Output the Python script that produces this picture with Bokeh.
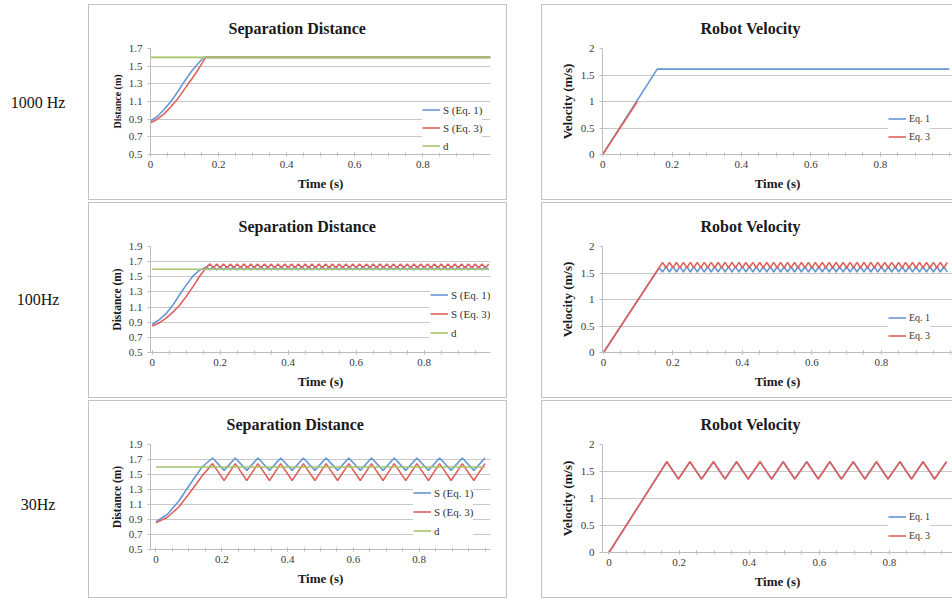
from bokeh.plotting import figure
from bokeh.layouts import row, column
from bokeh.models import Range1d, FixedTicker, CustomJSTickFormatter, Div, Spacer
from bokeh.embed import file_html
from bokeh.resources import INLINE

# ---------------- data ----------------
row_labels = ["1000 Hz", "100Hz", "30Hz"]
dist_title = "Separation Distance"
vel_title = "Robot Velocity"
dist_ylabel = "Distance (m)"
vel_ylabel = "Velocity (m/s)"
xlabel = "Time (s)"
dist_names = ["S (Eq. 1)", "S (Eq. 3)", "d"]
vel_names = ["Eq. 1", "Eq. 3"]

x_tick_vals = [0, 0.2, 0.4, 0.6, 0.8]
x_tick_labels = ["0", "0.2", "0.4", "0.6", "0.8"]
y_ticks_d1 = [0.5, 0.7, 0.9, 1.1, 1.3, 1.5, 1.7]
y_labels_d1 = ["0.5", "0.7", "0.9", "1.1", "1.3", "1.5", "1.7"]
y_ticks_d2 = [0.5, 0.7, 0.9, 1.1, 1.3, 1.5, 1.7, 1.9]
y_labels_d2 = ["0.5", "0.7", "0.9", "1.1", "1.3", "1.5", "1.7", "1.9"]
y_ticks_v = [0, 0.5, 1, 1.5, 2]
y_labels_v = ["0", "0.5", "1", "1.5", "2"]

# ---- 1000 Hz ----
t_d1000_eq1 = [0, 0.02, 0.04, 0.06, 0.08, 0.10, 0.12, 0.14, 0.156, 0.999]
d1000_eq1 = [0.88, 0.93, 1.01, 1.10, 1.21, 1.33, 1.44, 1.53, 1.60, 1.60]
t_d1000_eq3 = [0, 0.02, 0.04, 0.06, 0.08, 0.10, 0.12, 0.14, 0.162, 0.999]
d1000_eq3 = [0.86, 0.90, 0.96, 1.04, 1.13, 1.24, 1.35, 1.46, 1.60, 1.60]
t_dref1000 = [0, 0.999]
dref1000 = [1.6, 1.6]
t_v1000_eq1 = [0, 0.157, 0.999]
v1000_eq1 = [0, 1.61, 1.61]
t_v1000_eq3 = [0, 0.10]
v1000_eq3 = [0, 1.0]

# ---- 100 Hz ----
t_ramp100 = [0, 0.02, 0.04, 0.06, 0.08, 0.10, 0.12, 0.14, 0.16]
d100_eq1_ramp = [0.87, 0.93, 1.01, 1.12, 1.26, 1.39, 1.51, 1.59, 1.63]
d100_eq3_ramp = [0.85, 0.89, 0.95, 1.03, 1.12, 1.24, 1.37, 1.51, 1.63]
t_vramp100 = [0, 0.16]
v100_eq1_ramp = [0, 1.60]
v100_eq3_ramp = [0, 1.60]
t_osc100 = [0.17, 0.18, 0.19, 0.20, 0.21, 0.22, 0.23, 0.24, 0.25, 0.26,
            0.27, 0.28, 0.29, 0.30, 0.31, 0.32, 0.33, 0.34, 0.35, 0.36,
            0.37, 0.38, 0.39, 0.40, 0.41, 0.42, 0.43, 0.44, 0.45, 0.46,
            0.47, 0.48, 0.49, 0.50, 0.51, 0.52, 0.53, 0.54, 0.55, 0.56,
            0.57, 0.58, 0.59, 0.60, 0.61, 0.62, 0.63, 0.64, 0.65, 0.66,
            0.67, 0.68, 0.69, 0.70, 0.71, 0.72, 0.73, 0.74, 0.75, 0.76,
            0.77, 0.78, 0.79, 0.80, 0.81, 0.82, 0.83, 0.84, 0.85, 0.86,
            0.87, 0.88, 0.89, 0.90, 0.91, 0.92, 0.93, 0.94, 0.95, 0.96,
            0.97, 0.98, 0.99]
d100_eq1_osc = [1.59, 1.63, 1.59, 1.63, 1.59, 1.63, 1.59, 1.63, 1.59, 1.63,
                1.59, 1.63, 1.59, 1.63, 1.59, 1.63, 1.59, 1.63, 1.59, 1.63,
                1.59, 1.63, 1.59, 1.63, 1.59, 1.63, 1.59, 1.63, 1.59, 1.63,
                1.59, 1.63, 1.59, 1.63, 1.59, 1.63, 1.59, 1.63, 1.59, 1.63,
                1.59, 1.63, 1.59, 1.63, 1.59, 1.63, 1.59, 1.63, 1.59, 1.63,
                1.59, 1.63, 1.59, 1.63, 1.59, 1.63, 1.59, 1.63, 1.59, 1.63,
                1.59, 1.63, 1.59, 1.63, 1.59, 1.63, 1.59, 1.63, 1.59, 1.63,
                1.59, 1.63, 1.59, 1.63, 1.59, 1.63, 1.59, 1.63, 1.59, 1.63,
                1.59, 1.63, 1.59]
d100_eq3_osc = [1.67, 1.62, 1.67, 1.62, 1.67, 1.62, 1.67, 1.62, 1.67, 1.62,
                1.67, 1.62, 1.67, 1.62, 1.67, 1.62, 1.67, 1.62, 1.67, 1.62,
                1.67, 1.62, 1.67, 1.62, 1.67, 1.62, 1.67, 1.62, 1.67, 1.62,
                1.67, 1.62, 1.67, 1.62, 1.67, 1.62, 1.67, 1.62, 1.67, 1.62,
                1.67, 1.62, 1.67, 1.62, 1.67, 1.62, 1.67, 1.62, 1.67, 1.62,
                1.67, 1.62, 1.67, 1.62, 1.67, 1.62, 1.67, 1.62, 1.67, 1.62,
                1.67, 1.62, 1.67, 1.62, 1.67, 1.62, 1.67, 1.62, 1.67, 1.62,
                1.67, 1.62, 1.67, 1.62, 1.67, 1.62, 1.67, 1.62, 1.67, 1.62,
                1.67, 1.62, 1.67]
v100_eq1_osc = [1.52, 1.62, 1.52, 1.62, 1.52, 1.62, 1.52, 1.62, 1.52, 1.62,
                1.52, 1.62, 1.52, 1.62, 1.52, 1.62, 1.52, 1.62, 1.52, 1.62,
                1.52, 1.62, 1.52, 1.62, 1.52, 1.62, 1.52, 1.62, 1.52, 1.62,
                1.52, 1.62, 1.52, 1.62, 1.52, 1.62, 1.52, 1.62, 1.52, 1.62,
                1.52, 1.62, 1.52, 1.62, 1.52, 1.62, 1.52, 1.62, 1.52, 1.62,
                1.52, 1.62, 1.52, 1.62, 1.52, 1.62, 1.52, 1.62, 1.52, 1.62,
                1.52, 1.62, 1.52, 1.62, 1.52, 1.62, 1.52, 1.62, 1.52, 1.62,
                1.52, 1.62, 1.52, 1.62, 1.52, 1.62, 1.52, 1.62, 1.52, 1.62,
                1.52, 1.62, 1.52]
v100_eq3_osc = [1.70, 1.60, 1.70, 1.60, 1.70, 1.60, 1.70, 1.60, 1.70, 1.60,
                1.70, 1.60, 1.70, 1.60, 1.70, 1.60, 1.70, 1.60, 1.70, 1.60,
                1.70, 1.60, 1.70, 1.60, 1.70, 1.60, 1.70, 1.60, 1.70, 1.60,
                1.70, 1.60, 1.70, 1.60, 1.70, 1.60, 1.70, 1.60, 1.70, 1.60,
                1.70, 1.60, 1.70, 1.60, 1.70, 1.60, 1.70, 1.60, 1.70, 1.60,
                1.70, 1.60, 1.70, 1.60, 1.70, 1.60, 1.70, 1.60, 1.70, 1.60,
                1.70, 1.60, 1.70, 1.60, 1.70, 1.60, 1.70, 1.60, 1.70, 1.60,
                1.70, 1.60, 1.70, 1.60, 1.70, 1.60, 1.70, 1.60, 1.70, 1.60,
                1.70, 1.60, 1.70]
t_dref100 = [0, 0.99]
dref100 = [1.6, 1.6]

# ---- 30 Hz ----
t_ramp30 = [0, 0.035, 0.07, 0.105, 0.14]
d30_eq1_ramp = [0.87, 0.97, 1.15, 1.38, 1.60]
d30_eq3_ramp = [0.855, 0.93, 1.07, 1.27, 1.48]
t_osc30 = [0.172, 0.207, 0.241, 0.276, 0.310, 0.345, 0.379, 0.414, 0.448, 0.483,
           0.517, 0.552, 0.586, 0.621, 0.655, 0.690, 0.724, 0.759, 0.793, 0.828,
           0.862, 0.897, 0.931, 0.966, 1.000]
d30_eq1_osc = [1.72, 1.555, 1.72, 1.555, 1.72, 1.555, 1.72, 1.555, 1.72, 1.555,
               1.72, 1.555, 1.72, 1.555, 1.72, 1.555, 1.72, 1.555, 1.72, 1.555,
               1.72, 1.555, 1.72, 1.555, 1.72]
d30_eq3_osc = [1.645, 1.42, 1.645, 1.42, 1.645, 1.42, 1.645, 1.42, 1.645, 1.42,
               1.645, 1.42, 1.645, 1.42, 1.645, 1.42, 1.645, 1.42, 1.645, 1.42,
               1.645, 1.42, 1.645, 1.42, 1.645]
t_dref30 = [0, 1.0]
dref30 = [1.6, 1.6]
t_v30 = [0, 0.165, 0.198, 0.231, 0.264, 0.298, 0.331, 0.364, 0.397, 0.431,
         0.464, 0.497, 0.530, 0.564, 0.597, 0.630, 0.663, 0.697, 0.730, 0.763,
         0.796, 0.830, 0.863, 0.896, 0.929, 0.963]
v30_eq1 = [0, 1.68, 1.36, 1.68, 1.36, 1.68, 1.36, 1.68, 1.36, 1.68,
           1.36, 1.68, 1.36, 1.68, 1.36, 1.68, 1.36, 1.68, 1.36, 1.68,
           1.36, 1.68, 1.36, 1.68, 1.36, 1.68]
v30_eq3 = [0, 1.68, 1.36, 1.68, 1.36, 1.68, 1.36, 1.68, 1.36, 1.68,
           1.36, 1.68, 1.36, 1.68, 1.36, 1.68, 1.36, 1.68, 1.36, 1.68,
           1.36, 1.68, 1.36, 1.68, 1.36, 1.68]

# ---------------- styling ----------------
BLUE = "#6797d4"
RED = "#e0615c"
GREEN = "#a6c46a"
GRID = "#c8c8c8"
AXIS = "#bdbdbd"
FONT = "Liberation Serif"
LEFT_W = 419
RIGHT_W = 411
ROW_HEIGHTS = [196, 196, 198]
BORDER_FULL = {"background-color": "white", "box-shadow": "inset 0 0 0 1px #c2c2c2"}
BORDER_OPEN = {"background-color": "white",
               "box-shadow": "inset 1px 1px 0 0 #c2c2c2, inset 0 -1px 0 0 #c2c2c2"}

minor_x = [round(0.05 * i, 2) for i in range(0, 22)]


def fmt(vals, labels):
    return CustomJSTickFormatter(args=dict(tv=vals, tl=labels), code="""
        for (let i = 0; i < tv.length; i++) {
            if (Math.abs(tv[i] - tick) < 1e-9) return tl[i];
        }
        return "";
    """)


def panel(title, ylabel, ylabel_size, series, xr, yr, yticks, ylabels, width, height,
          mbl, mbr, mbb, toff, leg_xy, leg_spacing, leg_font, styles):
    p = figure(title=title, width=width, height=height,
               x_range=Range1d(*xr), y_range=Range1d(*yr),
               output_backend="svg", toolbar_location=None,
               min_border_left=mbl, min_border_right=mbr,
               min_border_top=44, min_border_bottom=mbb,
               border_fill_color=None, background_fill_color=None,
               outline_line_color=None, styles=styles)
    for (t, v, color, name) in series:
        p.line(t, v, line_color=color, line_width=1.6, legend_label=name)

    p.title.align = "left"
    p.title.offset = toff
    p.title.standoff = 24
    p.title.text_font = FONT
    p.title.text_font_style = "bold"
    p.title.text_font_size = "16px"
    p.title.text_color = "#1a1a1a"

    xa = p.xaxis[0]
    xa.ticker = FixedTicker(ticks=x_tick_vals, minor_ticks=minor_x)
    xa.formatter = fmt(x_tick_vals, x_tick_labels)
    xa.axis_label = xlabel
    xa.major_tick_in = 2
    xa.major_tick_out = 2
    xa.minor_tick_in = 2
    xa.minor_tick_out = 2
    xa.major_label_standoff = 4
    xa.axis_label_standoff = 5
    xa.axis_label_text_font_size = "13px"

    ya = p.yaxis[0]
    ya.ticker = FixedTicker(ticks=yticks)
    ya.formatter = fmt(yticks, ylabels)
    ya.axis_label = ylabel
    ya.major_tick_in = 0
    ya.major_tick_out = 3
    ya.minor_tick_line_color = None
    ya.major_label_standoff = 5
    ya.axis_label_standoff = 3
    ya.axis_label_text_font_size = ylabel_size

    for ax in (xa, ya):
        ax.axis_line_color = AXIS
        ax.major_tick_line_color = AXIS
        ax.major_label_text_font = FONT
        ax.major_label_text_font_size = "11px"
        ax.major_label_text_color = "#3a3a3a"
        ax.axis_label_text_font = FONT
        ax.axis_label_text_font_style = "bold"
        ax.axis_label_text_color = "#1a1a1a"
    xa.minor_tick_line_color = AXIS

    p.xgrid.visible = False
    p.ygrid.grid_line_color = GRID
    p.ygrid.grid_line_width = 1

    lg = p.legend[0]
    lg.location = leg_xy
    lg.background_fill_color = "white"
    lg.background_fill_alpha = 1.0
    lg.border_line_color = None
    lg.padding = 3
    lg.margin = 0
    lg.spacing = leg_spacing
    lg.glyph_width = 18
    lg.glyph_height = 15
    lg.label_height = 15
    lg.label_standoff = 3
    lg.label_text_font = FONT
    lg.label_text_font_size = leg_font
    lg.label_text_color = "#333333"
    return p


# ---- left column: separation distance ----
pd1 = panel(dist_title, dist_ylabel, "10px",
            [(t_d1000_eq1, d1000_eq1, BLUE, dist_names[0]),
             (t_d1000_eq3, d1000_eq3, RED, dist_names[1]),
             (t_dref1000, dref1000, GREEN, dist_names[2])],
            (0, 0.999), (0.5, 1.7), y_ticks_d1, y_labels_d1, LEFT_W, ROW_HEIGHTS[0],
            60, 17, 46, 78, (272, 1), 3, "11px", BORDER_FULL)

pd2 = panel(dist_title, dist_ylabel, "11.5px",
            [(t_ramp100 + t_osc100, d100_eq1_ramp + d100_eq1_osc, BLUE, dist_names[0]),
             (t_ramp100 + t_osc100, d100_eq3_ramp + d100_eq3_osc, RED, dist_names[1]),
             (t_dref100, dref100, GREEN, dist_names[2])],
            (-0.005, 0.995), (0.5, 1.9), y_ticks_d2, y_labels_d2, LEFT_W, ROW_HEIGHTS[1],
            50, 16, 46, 88, (280, 12), 4, "11px", BORDER_FULL)

pd3 = panel(dist_title, dist_ylabel, "11.5px",
            [(t_ramp30 + t_osc30, d30_eq1_ramp + d30_eq1_osc, BLUE, dist_names[0]),
             (t_ramp30 + t_osc30, d30_eq3_ramp + d30_eq3_osc, RED, dist_names[1]),
             (t_dref30, dref30, GREEN, dist_names[2])],
            (-0.0167, 1.0167), (0.5, 1.9), y_ticks_d2, y_labels_d2, LEFT_W, ROW_HEIGHTS[2],
            62, 14, 49, 76, (263, 11), 4, "11px", BORDER_FULL)

# ---- right column: robot velocity ----
pv1 = panel(vel_title, vel_ylabel, "13px",
            [(t_v1000_eq1, v1000_eq1, BLUE, vel_names[0]),
             (t_v1000_eq3, v1000_eq3, RED, vel_names[1])],
            (-0.0005, 1.008), (0, 2), y_ticks_v, y_labels_v, RIGHT_W, ROW_HEIGHTS[0],
            61, 0, 46, 98, (286, 10), 3, "10px", BORDER_OPEN)

pv2 = panel(vel_title, vel_ylabel, "13px",
            [(t_vramp100 + t_osc100, v100_eq1_ramp + v100_eq1_osc, BLUE, vel_names[0]),
             (t_vramp100 + t_osc100, v100_eq3_ramp + v100_eq3_osc, RED, vel_names[1])],
            (-0.003, 1.005), (0, 2), y_ticks_v, y_labels_v, RIGHT_W, ROW_HEIGHTS[1],
            61, 0, 46, 98, (286, 9), 3, "10px", BORDER_OPEN)

pv3 = panel(vel_title, vel_ylabel, "13px",
            [(t_v30, v30_eq1, BLUE, vel_names[0]),
             (t_v30, v30_eq3, RED, vel_names[1])],
            (-0.0185, 0.98), (0, 2), y_ticks_v, y_labels_v, RIGHT_W, ROW_HEIGHTS[2],
            60, 0, 46, 98, (286, 9), 4, "10px", BORDER_OPEN)


def row_label(txt, h, shift):
    html = ('<div style="width:76px;height:%dpx;padding-top:%dpx;box-sizing:border-box;'
            'display:flex;align-items:center;justify-content:center;'
            'font-family:\'Liberation Serif\';font-size:16px;color:#111;">%s</div>'
            % (h, shift, txt))
    return Div(text=html, width=88, height=h, margin=0)


label_shifts = [2, 0, 12]
labels_col = column(*[row_label(t, h, s) for t, h, s in zip(row_labels, ROW_HEIGHTS, label_shifts)],
                    spacing=2)
left_col = column(pd1, pd2, pd3, spacing=2)
right_col = column(pv1, pv2, pv3, spacing=2)
layout = column(Spacer(width=952, height=4),
                row(labels_col, left_col, Spacer(width=34, height=10), right_col))

open("out.html", "w").write(file_html(layout, INLINE))
